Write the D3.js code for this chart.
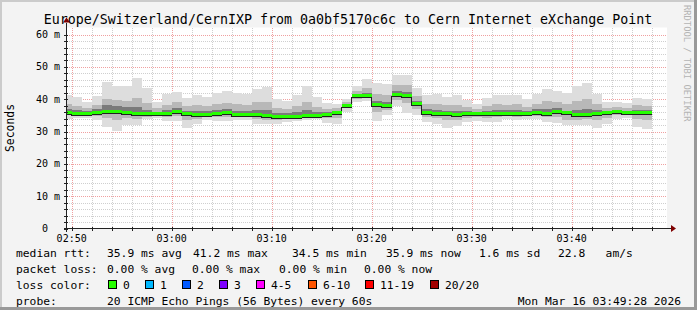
<!DOCTYPE html>
<html><head><meta charset="utf-8">
<script src="https://cdn.jsdelivr.net/npm/d3@7"></script>
<style>
html,body{margin:0;padding:0;background:#f3f3f3;}
svg{display:block;}
text{font-family:"DejaVu Sans Mono",monospace;fill:#000;white-space:pre;}
</style></head><body>
<svg id="c" width="697" height="310"></svg>
<script>
// ---- data ----
const title = "Europe/Switzerland/CernIXP from 0a0bf5170c6c to Cern Internet eXchange Point";
const firstColumn = "2026-03-16T02:49:00";
const medianRtt = [35.8,35.5,35.5,35.7,36.1,36.0,35.8,35.4,35.3,35.3,
  35.5,36.0,35.4,35.2,35.2,35.4,35.6,35.2,35.2,35.0,
  34.8,34.6,34.5,34.6,34.8,34.8,35.2,35.8,37.9,41.0,
  41.0,38.3,37.9,41.2,41.1,38.5,35.9,35.5,35.4,35.2,
  35.4,35.5,35.5,35.5,35.5,35.5,35.5,35.7,35.3,36.0,
  35.8,35.0,35.2,35.5,35.8,36.0,35.9,35.9,35.9];
const pingMax = [41.4,40.6,39.3,41.0,45.3,44.1,44.1,46.6,43.5,39.0,
  41.6,42.4,40.4,41.4,40.6,42.0,42.5,42.0,41.6,43.3,
  43.9,40.2,39.4,41.3,44.1,40.7,38.9,38.6,40.0,44.1,
  46.3,45.1,44.6,47.6,47.6,43.4,41.4,41.7,40.8,41.4,
  39.7,38.4,40.3,41.3,41.2,41.4,40.0,41.6,43.3,42.5,
  42.0,44.0,44.9,41.6,39.1,39.3,38.9,40.4,40.0];
const pingMin = [34.0,34.2,34.3,33.7,31.5,30.2,32.1,32.1,34.0,34.2,
  33.4,33.2,31.2,32.3,33.5,33.3,33.3,33.6,33.6,32.4,
  32.2,32.4,33.0,33.2,33.5,33.8,32.7,32.4,36.2,39.1,
  39.6,33.2,35.0,37.9,35.8,35.0,32.9,32.3,31.2,31.7,
  33.0,33.3,32.9,33.1,33.8,33.5,33.8,34.0,33.0,32.8,
  32.1,32.0,32.0,31.0,32.3,34.0,34.2,31.5,30.9];
const smokeHi2 = [38.6,38.0,37.4,38.3,40.0,39.8,39.5,40.5,38.9,37.2,
  38.3,39.0,37.8,38.1,37.8,38.5,38.9,38.4,38.2,39.0,
  39.2,37.3,37.0,37.8,39.2,37.6,37.0,37.2,39.0,42.6,
  43.6,41.6,41.2,44.3,44.3,41.0,38.6,38.6,38.1,38.3,
  37.5,37.0,37.9,38.4,38.3,38.4,37.7,38.6,39.4,39.2,
  38.4,39.5,40.0,38.5,37.4,37.6,37.4,38.1,38.0];
const smokeLo2 = [35.0,34.9,34.9,34.8,34.2,33.5,34.3,33.9,34.6,34.8,
  34.5,34.8,33.6,33.9,34.4,34.4,34.6,34.4,34.4,33.8,
  33.6,33.7,34.0,34.0,34.2,34.4,34.1,34.3,37.2,40.2,
  40.4,36.0,36.6,39.8,38.8,37.0,34.6,34.1,33.7,33.6,
  34.3,34.5,34.3,34.4,34.7,34.6,34.7,34.9,34.4,34.6,
  33.6,33.6,33.8,33.5,34.2,35.1,35.1,33.9,33.6];
const smokeHi3 = [37.0,36.6,36.4,36.9,38.3,37.8,37.5,37.6,36.8,36.1,
  36.8,37.3,36.5,36.5,36.3,36.8,37.0,36.5,36.5,36.7,
  36.6,35.9,35.8,36.1,36.7,36.1,36.1,36.5,38.4,41.7,
  42.0,39.6,39.2,42.5,42.3,39.5,37.0,36.8,36.5,36.4,
  36.3,36.2,36.5,36.7,36.7,36.7,36.4,36.9,37.1,37.3,
  36.0,36.7,37.1,36.7,36.5,36.6,36.5,36.8,36.8];
const smokeLo3 = [35.4,35.2,35.2,35.3,35.6,35.5,35.4,35.0,35.0,35.0,
  35.1,35.6,35.0,34.9,34.9,35.0,35.3,34.9,34.9,34.7,
  34.5,34.3,34.2,34.3,34.5,34.5,34.9,35.4,37.6,40.7,
  40.7,37.8,37.5,40.8,40.7,38.1,35.5,35.1,35.0,34.8,
  35.1,35.1,35.1,35.1,35.2,35.1,35.2,35.4,35.0,35.6,
  35.4,34.6,34.8,35.1,35.5,35.7,35.6,35.6,35.6];
const yTickValues = [0,10,20,30,40,50,60];
const yTickLabels = ["0","10 m","20 m","30 m","40 m","50 m","60 m"];
const xTickLabels = ["02:50","03:00","03:10","03:20","03:30","03:40"];
const lossLabels = ["0","1","2","3","4-5","6-10","11-19","20/20"];
const lossColors = ["#26ff00","#00b8ff","#0059ff","#7e00ff","#ff00ff","#ff5500","#ff0000","#a10000"];
const legendRtt = [["median rtt:",16],["35.9 ms avg",107],["41.2 ms max",193],["34.5 ms min",292],["35.9 ms now",386],["1.6 ms sd",479],["22.8   am/s",558]];
const legendLoss = [["packet loss:",16],["0.00 % avg",107],["0.00 % max",192],["0.00 % min",279],["0.00 % now",364]];
const lossBoxX = [108,145,182,219,256,308,365,430];
const probeText = "20 ICMP Echo Pings (56 Bytes) every 60s";
const stamp = "Mon Mar 16 03:49:28 2026";

// ---- layout ----
const W = 697, H = 310;
const PL = 67, PR = 667, PT = 28.5, PB = 228.5;
const svg = d3.select("#c");
const parse = d3.timeParse("%Y-%m-%dT%H:%M:%S");
const t0 = parse(firstColumn);
const x = d3.scaleTime()
  .domain([parse("2026-03-16T02:49:32"), parse("2026-03-16T03:49:32")])
  .range([PL, PR]);
const y = d3.scaleLinear().domain([0, 61.9]).range([PB, PT]);

// background & frame
svg.append("rect").attr("width",W).attr("height",H).attr("fill","#f3f3f3");
svg.append("rect").attr("x",0).attr("y",0).attr("width",W).attr("height",2).attr("fill","#cbcbcb");
svg.append("rect").attr("x",0).attr("y",0).attr("width",2).attr("height",H).attr("fill","#cbcbcb");
svg.append("rect").attr("x",W-3).attr("y",0).attr("width",3).attr("height",H).attr("fill","#999");
svg.append("rect").attr("x",0).attr("y",H-3).attr("width",W).attr("height",3).attr("fill","#999");
svg.append("rect").attr("x",PL).attr("y",PT-1).attr("width",PR-PL).attr("height",PB-PT+1).attr("fill","#fff");

// grid
const g = svg.append("g").attr("shape-rendering","crispEdges");
const minorT = d3.timeMinute.every(2).range(parse("2026-03-16T02:50:00"), parse("2026-03-16T03:49:31"));
minorT.forEach(t => {
  const major = t.getMinutes() % 10 === 0;
  const xx = Math.round(x(t)) + 0.5;
  g.append("line").attr("x1",xx).attr("x2",xx).attr("y1",PT-1).attr("y2",PB)
    .attr("stroke", major ? "#f0a0a0" : "#cfcfcf").attr("stroke-dasharray","1,1");
});
d3.range(2, 62, 2).forEach(v => {
  const major = v % 10 === 0;
  const yy = Math.round(y(v)) + 0.5;
  g.append("line").attr("x1",PL).attr("x2",PR).attr("y1",yy).attr("y2",yy)
    .attr("stroke", major ? "#f0a0a0" : "#cfcfcf").attr("stroke-dasharray","1,1");
});

// smoke
const cols = medianRtt.map((m,i) => ({
  t0: d3.timeMinute.offset(t0, i), t1: d3.timeMinute.offset(t0, i+1),
  med: m, max: pingMax[i], min: pingMin[i],
  hi2: smokeHi2[i], lo2: smokeLo2[i], hi3: smokeHi3[i], lo3: smokeLo3[i]
}));
svg.append("clipPath").attr("id","cp").append("rect").attr("x",PL).attr("y",PT).attr("width",PR-PL).attr("height",PB-PT);
const sm = svg.append("g").attr("clip-path","url(#cp)").attr("shape-rendering","crispEdges");
const bands = [["max","min","#dddddd"],["hi2","lo2","#b8b8b8"],["hi3","lo3","#7a7a7a"]];
bands.forEach(([hk,lk,col]) => {
  sm.selectAll(null).data(cols).enter().append("rect")
    .attr("x", d => x(d.t0)).attr("width", d => x(d.t1)-x(d.t0))
    .attr("y", d => y(d[hk])).attr("height", d => y(d[lk]) - y(d[hk]))
    .attr("fill", col);
});
// median: black step line + loss-colour band
const step = d3.line().curve(d3.curveStepAfter).x(d => d[0]).y(d => d[1]);
const pts = cols.map(d => [x(d.t0), Math.round(y(d.med)) + 1.5]);
pts.push([x(cols[cols.length-1].t1), pts[pts.length-1][1]]);
sm.append("path").attr("d", step(pts)).attr("fill","none").attr("stroke","#202020").attr("stroke-width",1);
sm.selectAll(null).data(cols).enter().append("rect")
  .attr("x", d => x(d.t0)).attr("width", d => x(d.t1)-x(d.t0))
  .attr("y", d => Math.round(y(d.med)) - 2).attr("height", 3)
  .attr("fill", lossColors[0]);

// axes
const ax = svg.append("g").attr("shape-rendering","crispEdges");
ax.append("line").attr("x1",PL-3).attr("x2",PR+4).attr("y1",PB).attr("y2",PB).attr("stroke","#222");
ax.append("line").attr("x1",PL-0.5).attr("x2",PL-0.5).attr("y1",PB+3).attr("y2",PT-6).attr("stroke","#222");
minorT.forEach(t => {
  const xx = Math.round(x(t)) + 0.5;
  ax.append("line").attr("x1",xx).attr("x2",xx).attr("y1",PB-1.5).attr("y2",PB+2.5).attr("stroke","#222");
});
d3.range(0, 62, 2).forEach(v => {
  const yy = Math.round(y(v)) + 0.5;
  ax.append("line").attr("x1",PL-3).attr("x2",PL+1).attr("y1",yy).attr("y2",yy).attr("stroke","#222");
});
svg.append("path").attr("d",`M${PR+4},${PB-3.5}L${PR+9},${PB}L${PR+4},${PB+3.5}Z`).attr("fill","#7f0000");
svg.append("path").attr("d",`M${PL-4},${PT-6}L${PL-0.5},${PT-11}L${PL+3},${PT-6}Z`).attr("fill","#7f0000");

// tick labels
const majorT = d3.timeMinute.every(10).range(parse("2026-03-16T02:50:00"), parse("2026-03-16T03:49:00"));
svg.selectAll(null).data(majorT).enter().append("text")
  .attr("x", d => x(d)).attr("y", 241.5).attr("text-anchor","middle")
  .attr("font-size","10px").text((d,i) => xTickLabels[i]);
svg.selectAll(null).data(yTickValues).enter().append("text")
  .attr("x", (d,i) => i === 0 ? 48 : 60).attr("y", d => y(d) + 3.5).attr("text-anchor","end")
  .attr("font-size","10px").text((d,i) => yTickLabels[i]);
svg.append("text").attr("transform","translate(14,128) rotate(-90)").attr("text-anchor","middle")
  .attr("font-size","11.4px").text("Seconds");

// title & watermark
svg.append("text").attr("x",348).attr("y",23.5).attr("text-anchor","middle").attr("font-size","13.3px").text(title);
svg.append("text").attr("transform","translate(684,5) rotate(90)").attr("font-size","8.8px")
  .style("fill","#b4b4b4").text("RRDTOOL / TOBI OETIKER");

// legend
const fs = "11.3px";
const rowY = [257, 273, 289, 305];
legendRtt.forEach(([t,xx]) => svg.append("text").attr("x",xx).attr("y",rowY[0]).attr("font-size",fs).text(t));
legendLoss.forEach(([t,xx]) => svg.append("text").attr("x",xx).attr("y",rowY[1]).attr("font-size",fs).text(t));
svg.append("text").attr("x",16).attr("y",rowY[2]).attr("font-size",fs).text("loss color:");
lossLabels.forEach((l,i) => {
  svg.append("rect").attr("x",lossBoxX[i]+0.5).attr("y",rowY[2]-8.5).attr("width",8).attr("height",8)
    .attr("fill",lossColors[i]).attr("stroke","#000").attr("shape-rendering","crispEdges");
  svg.append("text").attr("x",lossBoxX[i]+15).attr("y",rowY[2]).attr("font-size",fs).text(l);
});
svg.append("text").attr("x",16).attr("y",rowY[3]).attr("font-size",fs).text("probe:");
svg.append("text").attr("x",107).attr("y",rowY[3]).attr("font-size",fs).text(probeText);
svg.append("text").attr("x",681).attr("y",rowY[3]).attr("text-anchor","end").attr("font-size",fs).text(stamp);
</script>
</body></html>
